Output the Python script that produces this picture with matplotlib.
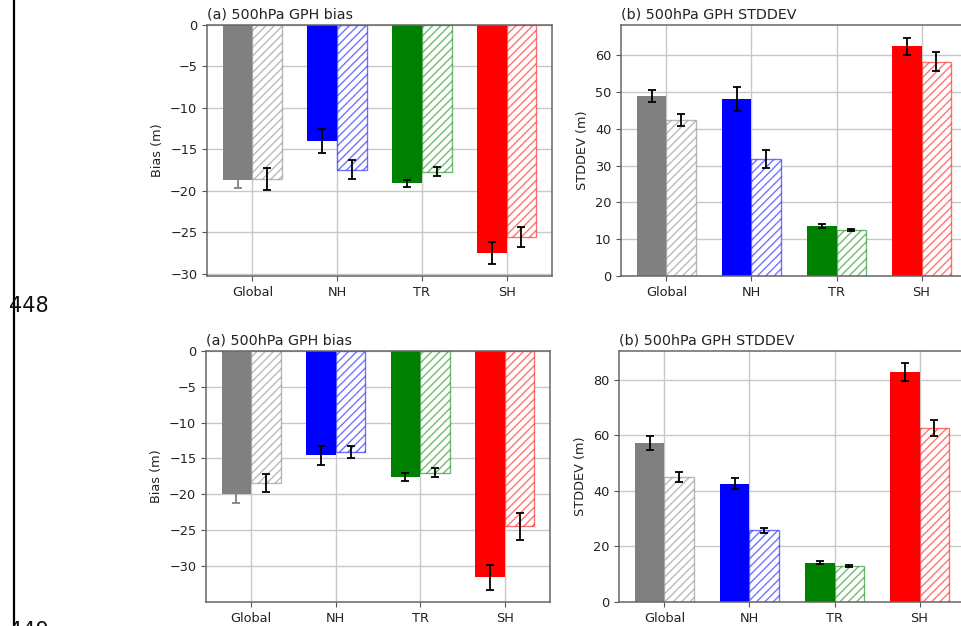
import numpy as np
import matplotlib
matplotlib.use("Agg")
import matplotlib.pyplot as plt
from matplotlib.colors import to_rgba

regions = ["Global", "NH", "TR", "SH"]
colors = ["grey", "blue", "green", "red"]

# top row
bias1_solid = [-18.7, -14.0, -19.1, -27.5]
bias1_solid_err = [1.0, 1.45, 0.42, 1.3]
bias1_hatch = [-18.6, -17.45, -17.7, -25.6]
bias1_hatch_err = [1.35, 1.15, 0.55, 1.25]
std1_solid = [48.9, 48.1, 13.5, 62.4]
std1_solid_err = [1.7, 3.3, 0.5, 2.35]
std1_hatch = [42.4, 31.7, 12.4, 58.2]
std1_hatch_err = [1.75, 2.45, 0.3, 2.55]

# bottom row
bias2_solid = [-20.0, -14.55, -17.6, -31.6]
bias2_solid_err = [1.2, 1.3, 0.6, 1.75]
bias2_hatch = [-18.4, -14.1, -17.0, -24.5]
bias2_hatch_err = [1.25, 0.9, 0.6, 1.9]
std2_solid = [57.3, 42.6, 14.2, 82.9]
std2_solid_err = [2.4, 2.0, 0.45, 3.3]
std2_hatch = [44.9, 25.8, 13.0, 62.7]
std2_hatch_err = [1.85, 0.85, 0.25, 2.8]

# the Global error bar on the bias panels is drawn in grey
bias_ecolors = ["grey", "black", "black", "black"]
std_ecolors = ["black", "black", "black", "black"]

plt.rcParams["font.family"] = "DejaVu Sans"
plt.rcParams["font.size"] = 9.3
plt.rcParams["hatch.linewidth"] = 1.0

W, H = 961, 626
fig = plt.figure(figsize=(W / 100, H / 100), dpi=100)


def px_axes(x0, y0, x1, y1):
    return fig.add_axes([x0 / W, 1 - y1 / H, (x1 - x0) / W, (y1 - y0) / H])


def draw_panel(ax, solid, solid_err, hatch, hatch_err, ecolors, title, ylabel, ylim, yticks):
    x = np.arange(len(regions))
    w = 0.35
    for i in range(len(regions)):
        ax.bar(x[i] - w / 2, solid[i], w, color=colors[i], zorder=2)
        ax.errorbar(x[i] - w / 2, solid[i], yerr=solid_err[i], fmt="none",
                    ecolor=ecolors[i], elinewidth=1.3, capsize=3, capthick=1.3, zorder=3)
        ax.bar(x[i] + w / 2, hatch[i], w, facecolor="white",
               edgecolor=to_rgba(colors[i], 0.55), hatch="////", linewidth=1.0, zorder=2)
        ax.errorbar(x[i] + w / 2, hatch[i], yerr=hatch_err[i], fmt="none",
                    ecolor="black", elinewidth=1.3, capsize=3, capthick=1.3, zorder=3)
    ax.set_xticks(x)
    ax.set_xticklabels(regions)
    ax.set_xlim(-0.535, 3.535)
    ax.set_ylim(*ylim)
    ax.set_yticks(yticks)
    ax.set_axisbelow(True)
    ax.grid(True, color="#c8c8c8", linewidth=1.0)
    ax.set_title(title, loc="left", fontsize=10.3, pad=5, color="#222222")
    ax.set_ylabel(ylabel, fontsize=9.3, color="#222222")
    ax.tick_params(colors="#555555", labelcolor="#222222")
    for s in ax.spines.values():
        s.set_color("#666666")
        s.set_linewidth(1.1)


ax1 = px_axes(207, 25, 552, 276)
draw_panel(ax1, bias1_solid, bias1_solid_err, bias1_hatch, bias1_hatch_err, bias_ecolors,
           "(a) 500hPa GPH bias", "Bias (m)", (-30.3, 0), np.arange(0, -31, -5))
ax2 = px_axes(621, 25, 967, 276)
draw_panel(ax2, std1_solid, std1_solid_err, std1_hatch, std1_hatch_err, std_ecolors,
           "(b) 500hPa GPH STDDEV", "STDDEV (m)", (0, 68.2), np.arange(0, 61, 10))
ax3 = px_axes(206, 351, 550, 602)
draw_panel(ax3, bias2_solid, bias2_solid_err, bias2_hatch, bias2_hatch_err, bias_ecolors,
           "(a) 500hPa GPH bias", "Bias (m)", (-35.05, 0), np.arange(0, -31, -5))
ax4 = px_axes(619, 351, 965, 602)
draw_panel(ax4, std2_solid, std2_solid_err, std2_hatch, std2_hatch_err, std_ecolors,
           "(b) 500hPa GPH STDDEV", "STDDEV (m)", (0, 90.4), np.arange(0, 81, 20))

# page margin: line numbers and rule
fig.add_artist(plt.Line2D([13.5 / W, 13.5 / W], [0, 1], color="black", linewidth=1.6))
fig.text(9 / W, 1 - 312 / H, "448", fontsize=15, color="#111111", ha="left", va="baseline")
fig.text(9 / W, 1 - 637 / H, "449", fontsize=15, color="#111111", ha="left", va="baseline")

fig.savefig("out.png", dpi=100)
